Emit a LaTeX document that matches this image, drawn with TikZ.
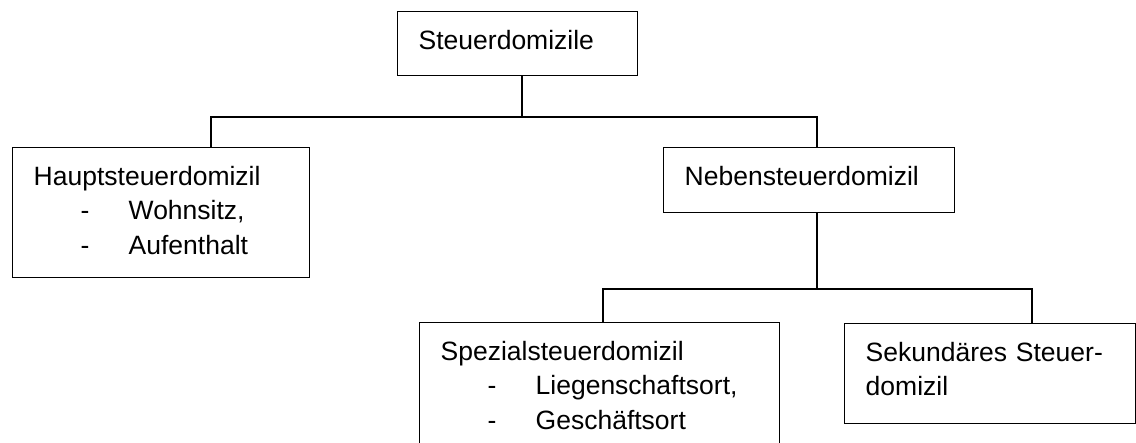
\documentclass[tikz,border=0pt]{standalone}
\usepackage{fontspec}
\setmainfont{Liberation Sans}
\usetikzlibrary{positioning}

\tikzset{
  kasten/.style={draw, line width=1.4pt, anchor=north west, align=left,
    inner xsep=21pt, inner ysep=0pt, text height=37.5pt,
    font=\fontsize{26.5}{34.5}\selectfont},
  linie/.style={line width=1.4pt}
}
\newcommand{\strichpunkt}[1]{\makebox[95pt][l]{\hspace*{47pt}-}#1}

\begin{document}
\begin{tikzpicture}[x=1pt,y=-1pt]
  \useasboundingbox (0,0) rectangle (1136,443);

  % boxes
  \node[kasten, text width=198pt, text depth=26.5pt] (steuer) at (397,11) {Steuerdomizile};
  \node[kasten, text width=255pt, text depth=92.5pt] (haupt) at (12,147)
    {Hauptsteuerdomizil\\ \strichpunkt{Wohnsitz,}\\ \strichpunkt{Aufenthalt}};
  \node[kasten, text width=249pt, text depth=27.5pt] (neben) at (663,147) {Nebensteuerdomizil};
  \node[kasten, text width=318pt, text depth=100.5pt] (spezial) at (419,322)
    {Spezialsteuerdomizil\\ \strichpunkt{Liegenschaftsort,}\\ \strichpunkt{Geschäftsort}};
  \node[kasten, text width=249pt, text depth=62.5pt] (sekundaer) at (844,323)
    {Sekundäres Steuer-\\domizil};

  % branch points
  \coordinate (obenmitte) at (522,117);
  \coordinate (obenlinks) at (211,117);
  \coordinate (obenrechts) at (817,117);
  \coordinate (untenmitte) at (817,289);
  \coordinate (untenlinks) at (603,289);
  \coordinate (untenrechts) at (1032,289);

  % connectors
  \draw[linie] (steuer.south -| obenmitte) -- (obenmitte);
  \draw[linie] (haupt.north -| obenlinks) -- (obenlinks) -- (obenrechts) -- (neben.north -| obenrechts);
  \draw[linie] (neben.south -| untenmitte) -- (untenmitte);
  \draw[linie] (spezial.north -| untenlinks) -- (untenlinks) -- (untenrechts) -- (sekundaer.north -| untenrechts);

\end{tikzpicture}
\end{document}
